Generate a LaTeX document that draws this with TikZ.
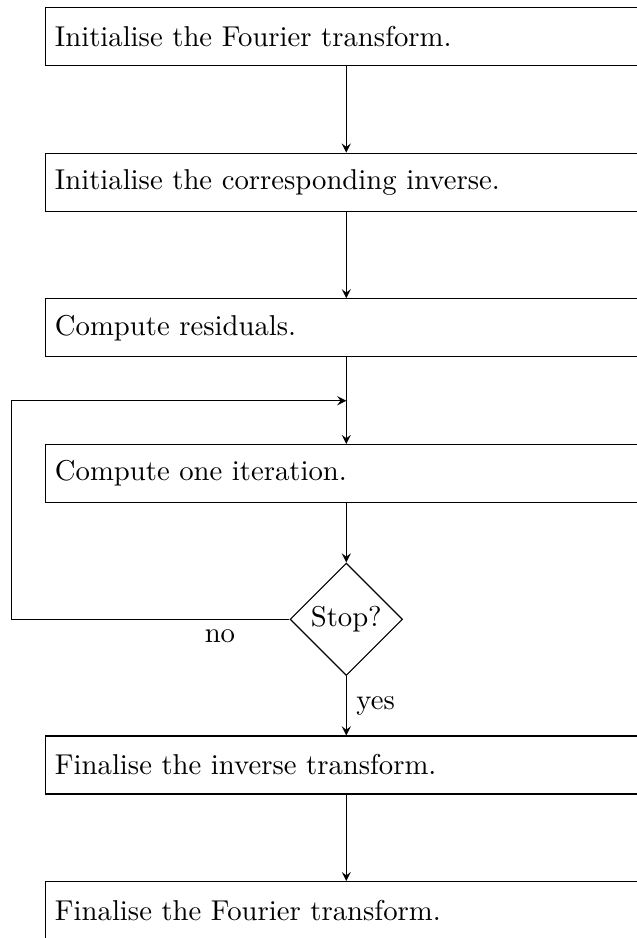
\documentclass[tikz,border=0pt]{standalone}
\usetikzlibrary{positioning,shapes.geometric,calc}
\tikzset{
  stepbox/.style={draw, rectangle, text width=203pt, align=left, minimum height=20.2pt, inner sep=3.33pt},
  decision/.style={draw, diamond, aspect=1, minimum width=39.2pt, minimum height=39.2pt, inner sep=1pt},
  >=stealth
}
\begin{document}
\begin{tikzpicture}[x=0.3484pt,y=-0.3484pt,node distance=50.76pt,on grid]
\useasboundingbox (0,0) rectangle (637,938);
\node[stepbox] (initfft) at (346.3,36.5) {Initialise the Fourier transform.};
\node[stepbox,below=of initfft] (initinv) {Initialise the corresponding inverse.};
\node[stepbox,below=of initinv] (resid) {Compute residuals.};
\node[stepbox,below=of resid] (iter) {Compute one iteration.};
\node[decision,below=of iter] (stop) {Stop?};
\node[stepbox,below=of stop] (fininv) {Finalise the inverse transform.};
\node[stepbox,below=of fininv] (finfft) {Finalise the Fourier transform.};
\coordinate (back) at (11.3,0);
\coordinate (loopin) at ($(resid.south)!0.5!(iter.north)$);
\draw[->] (initfft) -- (initinv);
\draw[->] (initinv) -- (resid);
\draw[->] (resid) -- (iter);
\draw[->] (iter) -- (stop);
\draw[->] (stop) -- node[right] {yes} (fininv);
\draw[->] (fininv) -- (finfft);
\draw[->] (stop.west) -- node[below,pos=0.25] {no} (stop -| back) |- (loopin);
\end{tikzpicture}
\end{document}
